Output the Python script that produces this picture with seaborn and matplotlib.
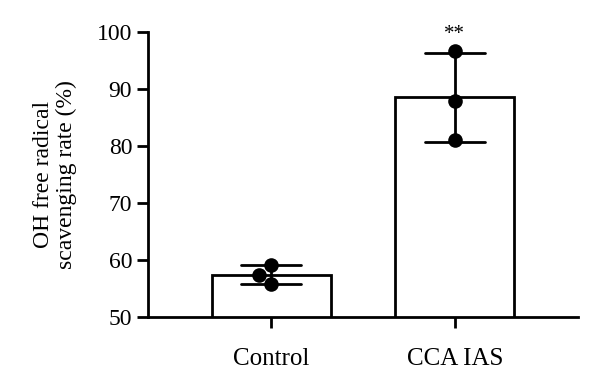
import matplotlib
matplotlib.use("Agg")
import matplotlib.pyplot as plt
import numpy as np
import pandas as pd
import seaborn as sns

# values
groups = ["Control", "CCA IAS"]
control_vals = [59.05, 57.4, 55.8]
cca_vals = [96.7, 87.8, 81.05]
y_ticks = [50, 60, 70, 80, 90, 100]
y_label = "OH free radical\nscavenging rate (%)"
sig_marks = {"CCA IAS": "**"}

df = pd.DataFrame({
    "group": [groups[0]] * len(control_vals) + [groups[1]] * len(cca_vals),
    "rate": control_vals + cca_vals,
})

sns.set_style("ticks", {"axes.edgecolor": "black", "text.color": "black",
                        "xtick.color": "black", "ytick.color": "black",
                        "axes.labelcolor": "black"})
plt.rcParams["font.family"] = ["Liberation Serif", "DejaVu Serif"]

fig = plt.figure(figsize=(6, 3.88), dpi=100)
ax = fig.add_axes([0.247, 0.183, 0.716, 0.735])

sns.barplot(data=df, x="group", y="rate", order=groups, errorbar="sd",
            capsize=0.33, width=0.65, color="white", edgecolor="black",
            linewidth=2, err_kws={"color": "black", "linewidth": 2}, ax=ax)
sns.swarmplot(data=df, x="group", y="rate", order=groups, color="black",
              size=10.5, ax=ax)

for g, mark in sig_marks.items():
    i = groups.index(g)
    ax.text(i, 97.8, mark, ha="center", va="bottom", fontsize=15, clip_on=False)

ax.set_ylim(50, 100)
ax.set_xlim(-0.67, 1.67)
ax.set_yticks(y_ticks)
ax.set_xlabel("")
ax.set_ylabel(y_label, fontsize=17, linespacing=1.15, labelpad=14)
ax.tick_params(axis="both", labelsize=17, width=2, length=8, direction="out")
ax.tick_params(axis="x", pad=14, labelsize=18)
for s in ["top", "right"]:
    ax.spines[s].set_visible(False)
for s in ["left", "bottom"]:
    ax.spines[s].set_linewidth(2)

fig.savefig("out.png", dpi=100)
